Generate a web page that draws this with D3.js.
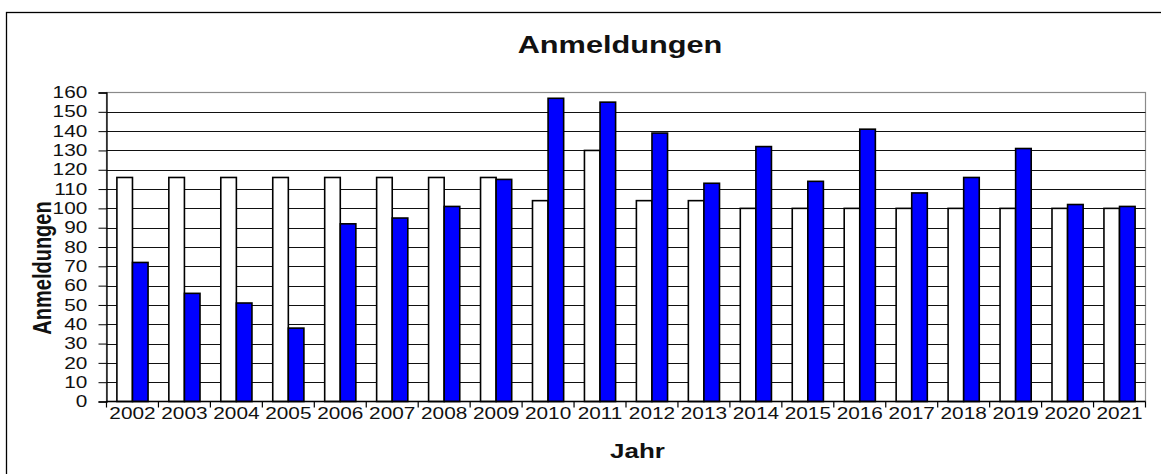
<!DOCTYPE html>
<html><head><meta charset="utf-8">
<script src="https://cdn.jsdelivr.net/npm/d3@7"></script>
<style>
html,body{margin:0;padding:0;background:#fff;}
svg{display:block;font-family:"Liberation Sans",Arial,sans-serif;}
</style></head>
<body><svg id="chart" width="1161" height="474"></svg>
<script>
const years = ["2002","2003","2004","2005","2006","2007","2008","2009","2010","2011","2012","2013","2014","2015","2016","2017","2018","2019","2020","2021"];
const kapazitaet = [116,116,116,116,116,116,116,116,104,130,104,104,100,100,100,100,100,100,100,100];
const anmeldungen = [72,56,51,38,92,95,101,115,157,155,139,113,132,114,141,108,116,131,102,101];
const yTicks = [0,10,20,30,40,50,60,70,80,90,100,110,120,130,140,150,160];
const seriesNames = ["Kapazität","Anmeldungen"];

const svg = d3.select("#chart");
const SX = 1.3;
const plot = {left:106.5, right:1145.5, top:92.5, bottom:401.5};

// outer frame
svg.append("rect").attr("x",6.5).attr("y",12.5).attr("width",1300).attr("height",600)
  .attr("fill","none").attr("stroke","#000").attr("stroke-width",1.3);

const x = d3.scaleBand().domain(years).range([plot.left, plot.right]).padding(0);
const xi = d3.scaleBand().domain(seriesNames).range([0, x.bandwidth()]).paddingInner(0).paddingOuter(0.667);
const y = d3.scaleLinear().domain([0,160]).range([plot.bottom, plot.top]);

// plot area border (gray)
svg.append("rect").attr("x",plot.left).attr("y",plot.top)
  .attr("width",plot.right-plot.left).attr("height",plot.bottom-plot.top)
  .attr("fill","none").attr("stroke","#8a8a8a").attr("stroke-width",1.2);

// grid
svg.append("g").selectAll("line").data(yTicks.filter(d=>d>0&&d<160)).join("line")
  .attr("x1",plot.left).attr("x2",plot.right)
  .attr("y1",d=>Math.round(y(d))+0.5).attr("y2",d=>Math.round(y(d))+0.5)
  .attr("stroke","#111").attr("stroke-width",1);

// bars
const data = years.map((yr,i)=>({yr, vals:[{k:seriesNames[0],v:kapazitaet[i]},{k:seriesNames[1],v:anmeldungen[i]}]}));
const colors = {"Kapazität":"#ffffff","Anmeldungen":"#0000ff"};
svg.append("g").selectAll("g").data(data).join("g")
  .attr("transform",d=>`translate(${x(d.yr)},0)`)
  .selectAll("rect").data(d=>d.vals).join("rect")
  .attr("x",d=>xi(d.k)).attr("width",xi.bandwidth())
  .attr("y",d=>y(d.v)).attr("height",d=>y(0)-y(d.v))
  .attr("fill",d=>colors[d.k]).attr("stroke","#000").attr("stroke-width",1.6);

// y axis
const yAxis = svg.append("g").attr("transform",`translate(${plot.left},0)`)
  .call(d3.axisLeft(y).tickValues(yTicks).tickSize(8).tickPadding(3));
yAxis.select(".domain").attr("stroke","#000").attr("stroke-width",1.3);
yAxis.selectAll(".tick line").attr("stroke","#000");
yAxis.selectAll("text").attr("font-size",16).attr("fill","#111")
  .attr("font-family","'Liberation Sans',Arial,sans-serif")
  .attr("x",-19.2/SX).attr("transform",`scale(${SX},1)`);

// x axis labels
const xAxis = svg.append("g").attr("transform",`translate(0,${plot.bottom})`)
  .call(d3.axisBottom(x).tickSize(0).tickPadding(6));
xAxis.select(".domain").remove();
xAxis.selectAll("text").attr("font-size",16).attr("fill","#111")
  .attr("font-family","'Liberation Sans',Arial,sans-serif")
  .attr("transform",`scale(${SX},1)`);
// x axis line & boundary ticks
svg.append("line").attr("x1",plot.left).attr("x2",plot.right).attr("y1",plot.bottom).attr("y2",plot.bottom)
  .attr("stroke","#000").attr("stroke-width",1.3);
const bounds = years.map(d=>x(d)).concat([x(years[years.length-1])+x.bandwidth()]);
svg.append("g").selectAll("line").data(bounds).join("line")
  .attr("x1",d=>d).attr("x2",d=>d).attr("y1",plot.bottom).attr("y2",plot.bottom+6)
  .attr("stroke","#000").attr("stroke-width",1.2);

// title
svg.append("text").attr("transform",`translate(620,53) scale(1.28,1)`)
  .attr("text-anchor","middle").attr("font-size",24).attr("font-weight","bold").attr("fill","#111")
  .text("Anmeldungen");
// x label
svg.append("text").attr("transform",`translate(637.5,458) scale(${SX},1)`)
  .attr("text-anchor","middle").attr("font-size",20).attr("font-weight","bold").attr("fill","#111")
  .text("Jahr");
// y label
svg.append("text").attr("transform",`translate(51,268) scale(${SX},1) rotate(-90)`)
  .attr("text-anchor","middle").attr("font-size",20).attr("font-weight","bold").attr("fill","#111")
  .text("Anmeldungen");
</script></body></html>
